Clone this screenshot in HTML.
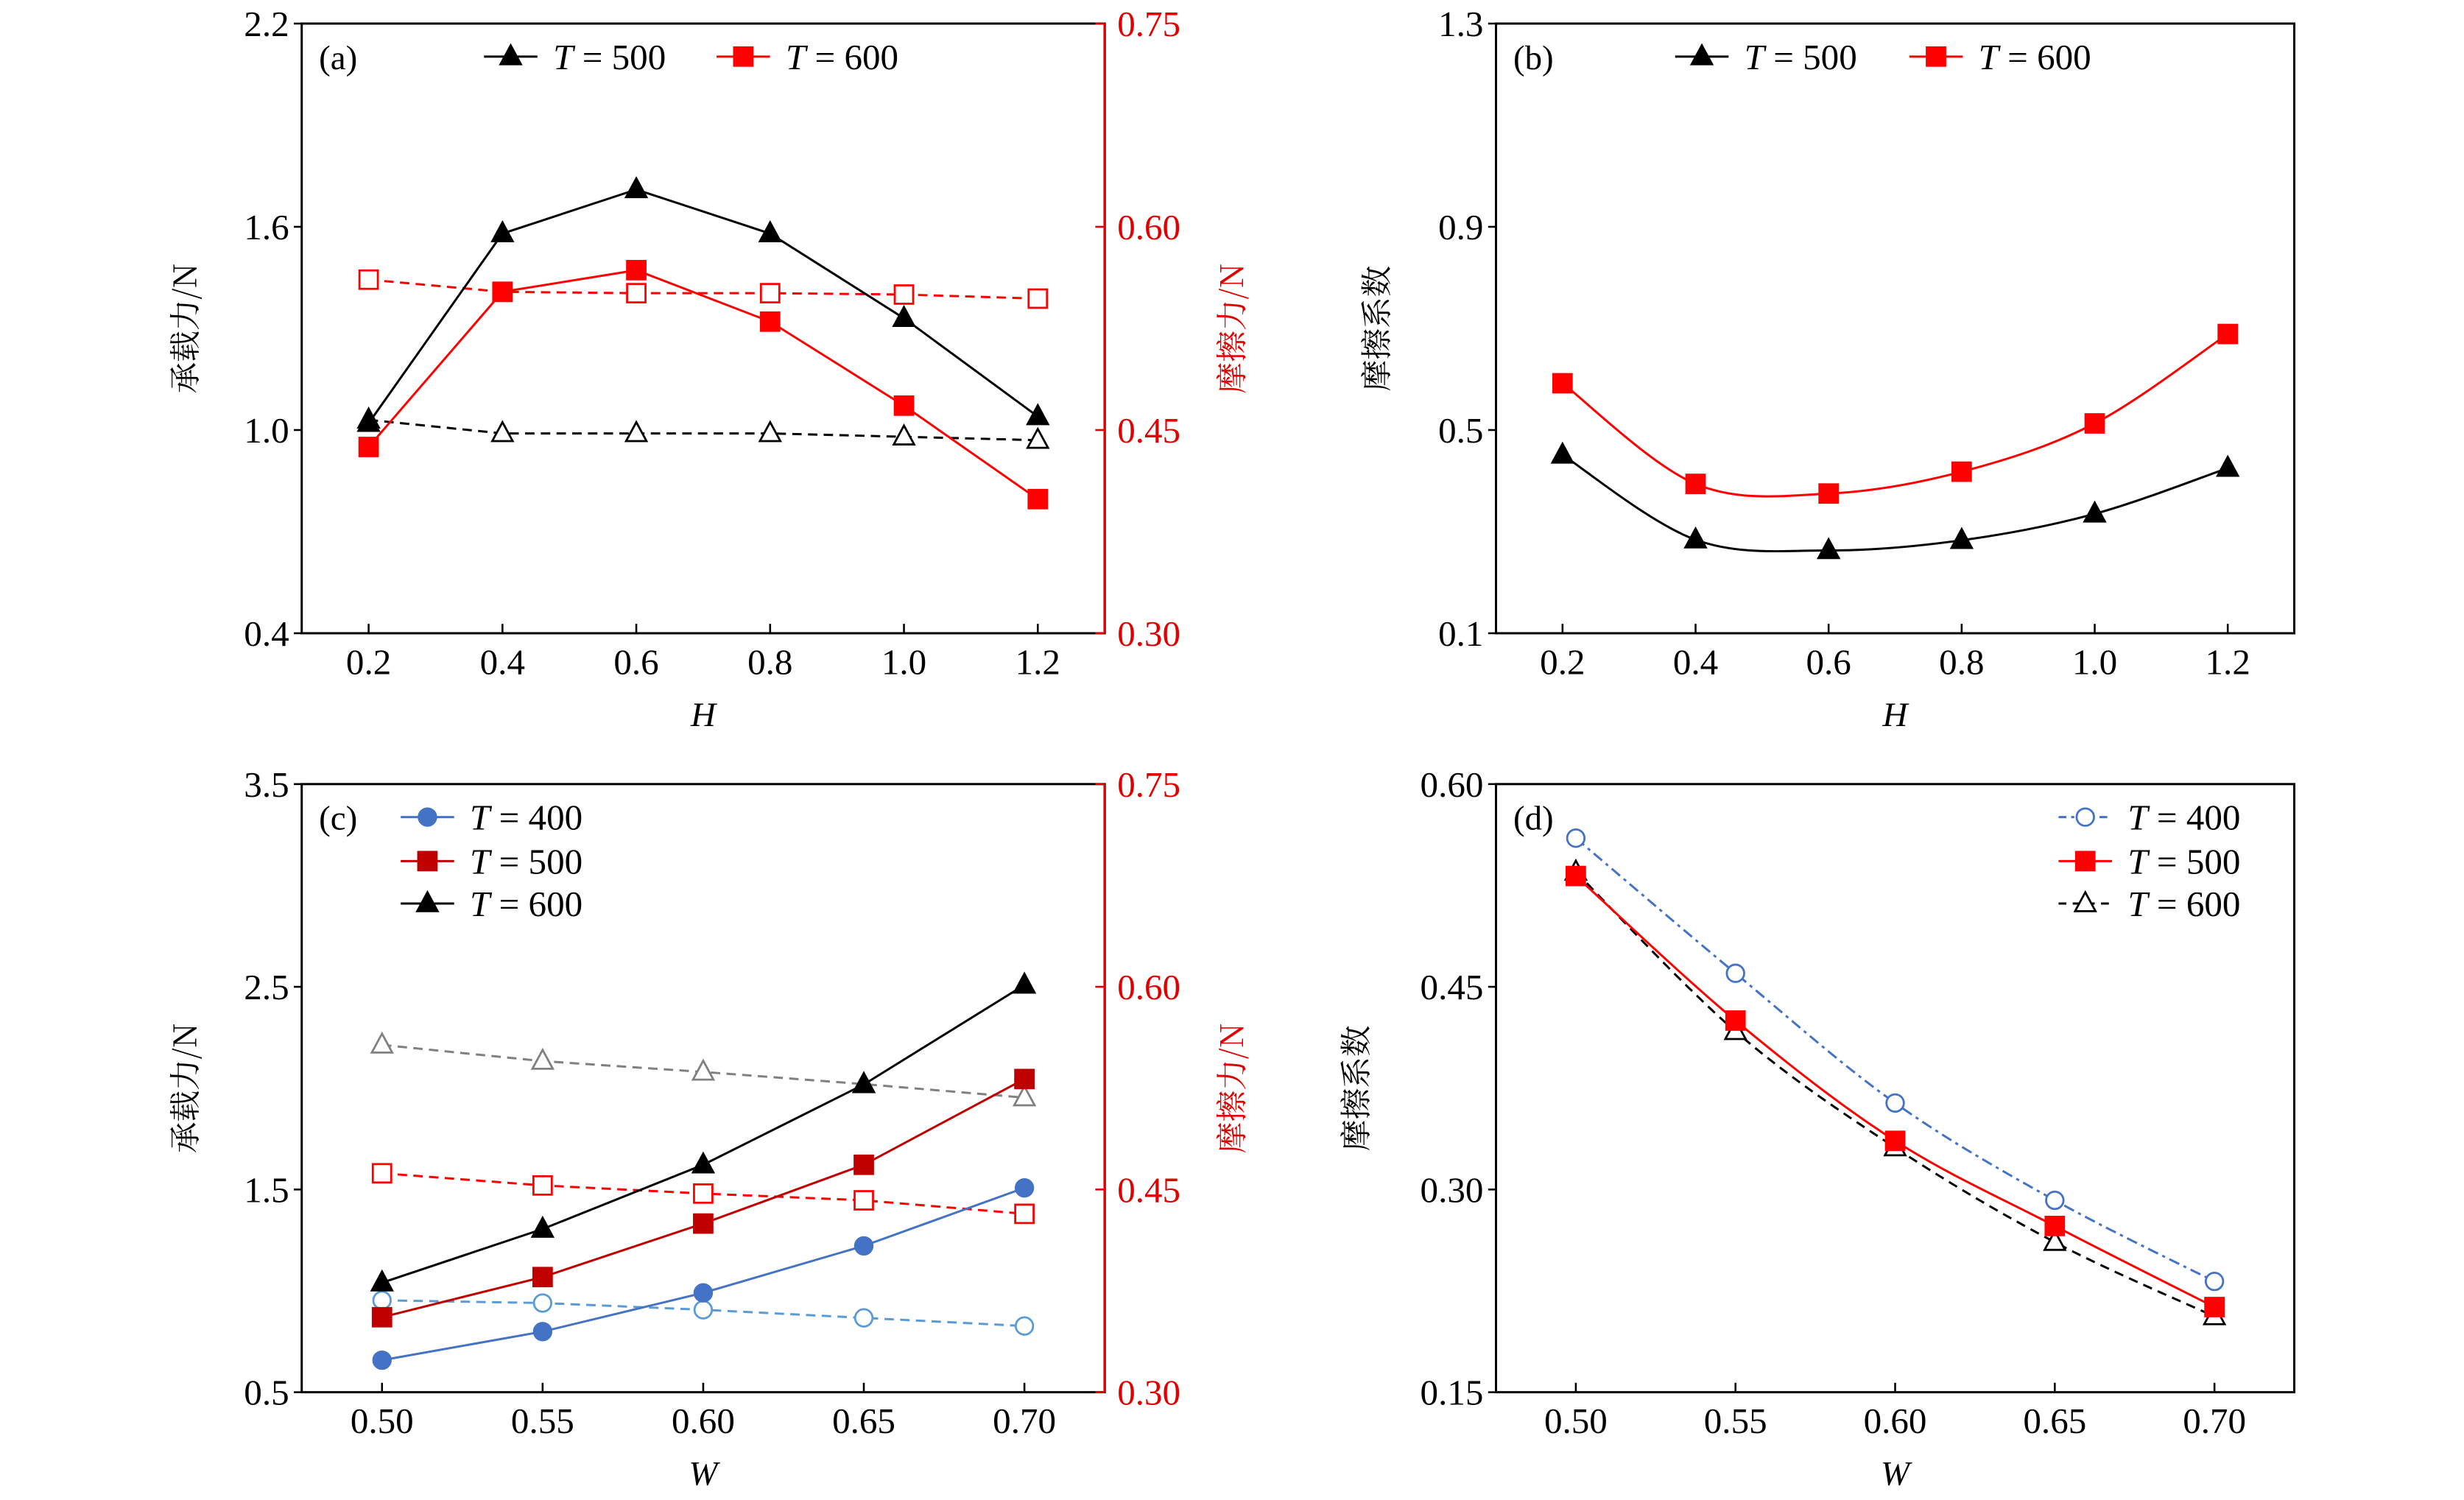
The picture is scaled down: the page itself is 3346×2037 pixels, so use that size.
<!DOCTYPE html>
<html><head><meta charset="utf-8"><style>
html,body{margin:0;padding:0;background:#fff;}
svg{display:block;}
text{font-family:"Liberation Serif","Noto Serif CJK SC",serif;}
.cjk{font-family:"Noto Serif CJK SC","Liberation Serif",serif;}
</style></head><body>
<svg id="fig" width="3346" height="2037" viewBox="0 0 1568 954.6" preserveAspectRatio="none" xmlns="http://www.w3.org/2000/svg"></svg>
<script>
// ---- data ----
const xH = [0.2, 0.4, 0.6, 0.8, 1.0, 1.2];
const xW = [0.50, 0.55, 0.60, 0.65, 0.70];
// panel a
const aLoad500 = [1.02, 1.58, 1.71, 1.58, 1.33, 1.04];
const aLoad600Fric = [0.4375, 0.552, 0.568, 0.530, 0.468, 0.399];
const aLoad500Dash = [1.03, 0.99, 0.99, 0.99, 0.98, 0.97];
const aFric600Dash = [0.561, 0.552, 0.551, 0.551, 0.550, 0.547];
// panel b
const bCoef500 = [0.451, 0.284, 0.263, 0.283, 0.335, 0.425];
const bCoef600 = [0.592, 0.394, 0.375, 0.418, 0.513, 0.689];
// panel c
const cLoad400 = [0.658, 0.799, 0.99, 1.222, 1.508];
const cLoad500 = [0.87, 1.068, 1.332, 1.622, 2.045];
const cLoad600 = [1.04, 1.305, 1.622, 2.018, 2.509];
const cFric600 = [0.557, 0.545, 0.537, 0.528, 0.518];
const cFric500 = [0.462, 0.453, 0.447, 0.442, 0.432];
const cFric400 = [0.368, 0.366, 0.361, 0.355, 0.349];
// panel d
const dCoef400 = [0.560, 0.460, 0.364, 0.292, 0.232];
const dCoef500 = [0.532, 0.425, 0.336, 0.273, 0.213];
const dCoef600 = [0.535, 0.417, 0.331, 0.261, 0.206];
// ticks
const tickH = ["0.2","0.4","0.6","0.8","1.0","1.2"];
const tickW = ["0.50","0.55","0.60","0.65","0.70"];
const tickAL = ["0.4","1.0","1.6","2.2"];
const tickAR = ["0.30","0.45","0.60","0.75"];
const tickB = ["0.1","0.5","0.9","1.3"];
const tickCL = ["0.5","1.5","2.5","3.5"];
const tickCR = ["0.30","0.45","0.60","0.75"];
const tickD = ["0.15","0.30","0.45","0.60"];

const svg = document.getElementById('fig');
const NS = 'http://www.w3.org/2000/svg';
function el(tag, attrs, parent){ const e=document.createElementNS(NS,tag); for(const k in attrs) e.setAttribute(k,attrs[k]); (parent||svg).appendChild(e); return e; }
function lin(d0,d1,r0,r1){ return v=>r0+(v-d0)/(d1-d0)*(r1-r0); }

function smoothPath(pts){
  let d='M'+pts[0][0]+','+pts[0][1];
  for(let i=0;i<pts.length-1;i++){
    const p0=pts[Math.max(i-1,0)],p1=pts[i],p2=pts[i+1],p3=pts[Math.min(i+2,pts.length-1)];
    const c1=[p1[0]+(p2[0]-p0[0])/6,p1[1]+(p2[1]-p0[1])/6];
    const c2=[p2[0]-(p3[0]-p1[0])/6,p2[1]-(p3[1]-p1[1])/6];
    d+=' C'+c1+' '+c2+' '+p2;
  }
  return d;
}
function marker(g,type,x,y,color,filled,size){
  const s=size||6.5; let m;
  const fill=filled?color:'#fff';
  if(type==='tri') m=el('polygon',{points:`${x},${y-s*1.1} ${x-s},${y+s*0.75} ${x+s},${y+s*0.75}`,fill:fill,stroke:color,'stroke-width':1.3},g);
  else if(type==='sq') m=el('rect',{x:x-s*0.9,y:y-s*0.9,width:s*1.8,height:s*1.8,fill:fill,stroke:color,'stroke-width':1.3},g);
  else m=el('circle',{cx:x,cy:y,r:s*0.85,fill:fill,stroke:color,'stroke-width':1.3},g);
  return m;
}
function series(g,name,xs,ys,sx,sy,opt){
  const sg=el('g',{},g);
  
  
  const pts=xs.map((x,i)=>[sx(x),sy(ys[i])]);
  const d=opt.smooth?smoothPath(pts):'M'+pts.map(p=>p.join(',')).join(' L');
  el('path',{d:d,fill:'none',stroke:opt.color,'stroke-width':1.4,'stroke-dasharray':opt.dash||'none'},sg);
  pts.forEach(p=>{ const m=marker(sg,opt.m,p[0],p[1],opt.color,opt.filled);
    
     });
}
function legendEntry(g,x,y,label,opt){
  const lg=el('g',{},g);
  
  
  el('line',{x1:x,y1:y,x2:x+34,y2:y,stroke:opt.color,'stroke-width':1.4,'stroke-dasharray':opt.dash||'none'},lg);
  marker(lg,opt.m,x+17,y,opt.color,opt.filled);
  const t=el('text',{x:x+44,y:y+8,'font-size':23},lg);
  t.innerHTML='<tspan font-style="italic">T</tspan> = '+label;
}
function panel(cfg){
  const g=el('g',{});
  
  
  const {L,R,T,B}=cfg;
  const sx=lin(cfg.xd[0],cfg.xd[1],L,R);
  const sy=lin(cfg.yd[0],cfg.yd[1],B,T);
  el('rect',{x:L,y:T,width:R-L,height:B-T,fill:'none',stroke:'#000','stroke-width':1.4},g);
  cfg.xt.forEach(s=>{ const x=sx(parseFloat(s));
    el('line',{x1:x,y1:B,x2:x,y2:B-6,stroke:'#000','stroke-width':1.2},g);
    const t=el('text',{x:x,y:B+26,'font-size':23,'text-anchor':'middle'},g); t.textContent=s;
      });
  cfg.yt.forEach(s=>{ const y=sy(parseFloat(s));
    el('line',{x1:L,y1:y,x2:L-5,y2:y,stroke:'#000','stroke-width':1.2},g);
    const t=el('text',{x:L-8,y:y+8,'font-size':23,'text-anchor':'end'},g); t.textContent=s;
      });
  let sy2=null;
  if(cfg.y2d){
    sy2=lin(cfg.y2d[0],cfg.y2d[1],B,T);
    el('line',{x1:R,y1:T,x2:R,y2:B,stroke:'#e00000','stroke-width':1.6},g);
    cfg.y2t.forEach(s=>{ const y=sy2(parseFloat(s));
      el('line',{x1:R,y1:y,x2:R-6,y2:y,stroke:'#e00000','stroke-width':1.2},g);
      const t=el('text',{x:R+8,y:y+8,'font-size':23,fill:'#e00000'},g); t.textContent=s;
        });
    const yt=el('text',{x:0,y:0,'font-size':20,fill:'#e00000','text-anchor':'middle',class:'cjk',transform:`translate(${R+88},${(T+B)/2}) rotate(-90)`},g);
    yt.textContent=cfg.y2title;
     
  }
  const yt=el('text',{x:0,y:0,'font-size':20,'text-anchor':'middle',class:'cjk',transform:`translate(${cfg.ytx},${(T+B)/2}) rotate(-90)`},g);
  yt.textContent=cfg.ytitle;
   
  const xt=el('text',{x:(L+R)/2,y:B+59,'font-size':22,'font-style':'italic','text-anchor':'middle'},g);
  xt.textContent=cfg.xtitle;
   
  const pl=el('text',{x:L+11,y:T+29,'font-size':22},g); pl.textContent='('+cfg.id+')';
   
  cfg.series.forEach(s=>series(g,s.name,cfg.xs,s.ys,sx,s.right?sy2:sy,s));
  cfg.legend.forEach(l=>legendEntry(g,l.x,l.y,l.label,l));
}
const RED='#ff0000', DRED='#c00000', BLUE='#4472c4', LBLUE='#5b9bd5';
panel({id:'a',L:192,R:703,T:15,B:403,xd:[0.1,1.3],yd:[0.4,2.2],y2d:[0.30,0.75],xs:xH,xt:tickH,yt:tickAL,y2t:tickAR,
  ytitle:'承载力/N',y2title:'摩擦力/N',ytx:125,xtitle:'H',
  series:[
    {name:'load-t500-dashed',ys:aLoad500Dash,color:'#000',m:'tri',filled:false,dash:'6,4'},
    {name:'friction-t600-dashed',ys:aFric600Dash,color:RED,m:'sq',filled:false,dash:'6,4',right:true},
    {name:'load-t500',ys:aLoad500,color:'#000',m:'tri',filled:true},
    {name:'friction-t600',ys:aLoad600Fric,color:RED,m:'sq',filled:true,right:true}],
  legend:[{x:308,y:36,label:'500',color:'#000',m:'tri',filled:true},{x:456,y:36,label:'600',color:RED,m:'sq',filled:true}]});
panel({id:'b',L:952,R:1460,T:15,B:403,xd:[0.1,1.3],yd:[0.1,1.3],xs:xH,xt:tickH,yt:tickB,
  ytitle:'摩擦系数',ytx:883,xtitle:'H',
  series:[
    {name:'coef-t500',ys:bCoef500,color:'#000',m:'tri',filled:true,smooth:true},
    {name:'coef-t600',ys:bCoef600,color:RED,m:'sq',filled:true,smooth:true}],
  legend:[{x:1066,y:36,label:'500',color:'#000',m:'tri',filled:true},{x:1215,y:36,label:'600',color:RED,m:'sq',filled:true}]});
panel({id:'c',L:192,R:703,T:499,B:886,xd:[0.475,0.725],yd:[0.5,3.5],y2d:[0.30,0.75],xs:xW,xt:tickW,yt:tickCL,y2t:tickCR,
  ytitle:'承载力/N',y2title:'摩擦力/N',ytx:125,xtitle:'W',
  series:[
    {name:'friction-t600-dashed',ys:cFric600,color:'#808080',m:'tri',filled:false,dash:'6,4',right:true},
    {name:'friction-t500-dashed',ys:cFric500,color:RED,m:'sq',filled:false,dash:'6,4',right:true},
    {name:'friction-t400-dashed',ys:cFric400,color:LBLUE,m:'circ',filled:false,dash:'6,4',right:true},
    {name:'load-t400',ys:cLoad400,color:BLUE,m:'circ',filled:true},
    {name:'load-t500',ys:cLoad500,color:DRED,m:'sq',filled:true},
    {name:'load-t600',ys:cLoad600,color:'#000',m:'tri',filled:true}],
  legend:[{x:255,y:520,label:'400',color:BLUE,m:'circ',filled:true},{x:255,y:548,label:'500',color:DRED,m:'sq',filled:true},{x:255,y:575,label:'600',color:'#000',m:'tri',filled:true}]});
panel({id:'d',L:952,R:1460,T:499,B:886,xd:[0.475,0.725],yd:[0.15,0.60],xs:xW,xt:tickW,yt:tickD,
  ytitle:'摩擦系数',ytx:870,xtitle:'W',
  series:[
    {name:'coef-t400',ys:dCoef400,color:BLUE,m:'circ',filled:false,dash:'7,3,2,3',smooth:true},
    {name:'coef-t600',ys:dCoef600,color:'#000',m:'tri',filled:false,dash:'6,4',smooth:true},
    {name:'coef-t500',ys:dCoef500,color:RED,m:'sq',filled:true,smooth:true}],
  legend:[{x:1310,y:520,label:'400',color:BLUE,m:'circ',filled:false,dash:'5,3,2,3'},{x:1310,y:548,label:'500',color:RED,m:'sq',filled:true},{x:1310,y:575,label:'600',color:'#000',m:'tri',filled:false,dash:'5,4'}]});
</script>
</body></html>
